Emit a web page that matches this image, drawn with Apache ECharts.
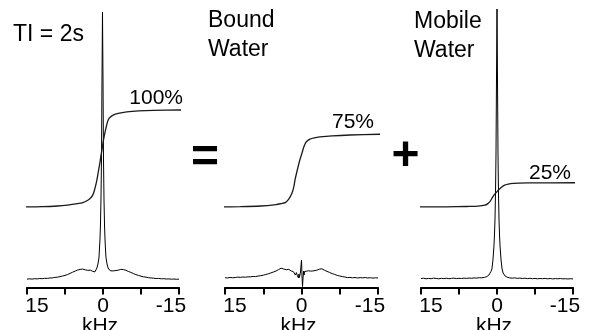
<!DOCTYPE html>
<html><head><meta charset="utf-8">
<script src="https://cdn.jsdelivr.net/npm/echarts@6/dist/echarts.min.js"></script>
<style>html,body{margin:0;padding:0;background:#fff}#c{width:595px;height:330px}</style>
</head><body><div id="c"></div>
<script>
// Frequency axis of the spectra (kHz)
const freq = [15,14.5,14,13.5,13,12.5,12,11.5,11,10.5,10,9.5,9,8.5,8,7.5,7,6.5,6,5.5,5,4.5,4,3.5,3,2.5,
  2.2,2,1.8,1.6,1.4,1.2,1,0.8,0.6,0.5,0.4,0.3,0.2,0.1,0,-0.1,-0.2,-0.3,-0.4,-0.5,-0.6,-0.8,-1,-1.2,-1.4,-1.6,-1.8,-2,-2.2,
  -2.5,-3,-3.5,-4,-4.5,-5,-5.5,-6,-6.5,-7,-7.5,-8,-8.5,-9,-9.5,-10,-10.5,-11,-11.5,-12,-12.5,-13,-13.5,-14,-14.5,-15];

// Spectrum intensities (arbitrary units)
const totalSpec = [0.8,1.2,0.9,1.3,1.1,1.5,1.3,1.7,1.6,2.0,2.1,2.6,2.8,3.3,4.0,4.6,5.4,6.6,7.8,8.9,10.0,10.6,10.9,10.2,9.6,9.9,
  9.0,8.6,9.3,8.1,7.2,12,16,22,40,55,80,120,200,268,200,120,80,55,40,30,22,16,12,10.2,9.4,9.8,9.1,9.6,9.2,
  9.0,9.8,10.6,10.4,9.7,8.6,7.6,6.4,5.4,4.6,3.8,3.2,2.8,2.3,2.0,1.8,1.5,1.6,1.2,1.3,1.0,1.1,0.8,1.0,0.7,0.9];
const boundSpec = [2.3,2.0,2.6,2.2,2.5,2.9,2.6,3.0,2.8,3.2,3.1,3.6,3.4,4.0,4.3,4.8,5.5,6.2,7.1,8.0,9.0,10.4,11.8,11.0,10.3,10.6,
  9.6,9.0,9.8,8.4,7.0,5.0,7.4,4.2,2.0,6.0,2.5,3.0,8,14,20,4,-6.5,2,9,5,8.5,6.5,8.8,8.0,9.2,8.4,8.9,8.2,9.0,
  9.4,9.8,10.8,11.2,9.8,8.6,7.6,6.4,5.6,4.6,4.0,3.4,3.0,2.4,2.6,2.2,2.5,2.0,2.4,2.1,2.5,2.0,2.3,1.9,2.2,2.0];
const mobileSpec = [1.4,1.8,1.2,1.6,1.3,1.9,1.5,1.2,1.7,1.4,1.8,1.3,1.6,1.9,1.4,1.7,1.5,1.9,1.6,2.0,1.7,2.1,1.9,2.3,2.2,2.6,
  2.8,3.4,3.6,5.0,6.5,8.5,11,20,34,45,60,85,125,200,271,200,125,85,60,45,34,20,11,7,5,4,3.3,2.8,2.4,
  2.1,1.8,2.2,1.6,1.9,1.5,1.8,1.4,1.7,1.3,1.6,1.2,1.5,1.3,1.6,1.2,1.5,1.1,1.4,1.2,1.5,1.1,1.3,1.0,1.3,1.1];

// Integral curves: [kHz, percent]
const totalIntegral = [[16.4,0],[12,0.3],[9,1],[7,2],[5,3.5],[4,4.5],[3,7],[2.5,9],[2,12.5],[1.6,19],[1.2,28],[0.9,37],[0.6,46],[0.4,53],[0.2,59],[0,66],[-0.2,72],[-0.4,77],[-0.7,84],[-1.0,89.5],[-1.4,92.5],[-2,94.8],[-3,96.5],[-4.7,98],[-7,99],[-10,99.6],[-15.6,100]];
const boundIntegral = [[16.4,0],[12,0.3],[8,1],[5,2.5],[4,3.5],[3.2,4.5],[2.5,8],[1.86,14.4],[1.5,21],[1.27,28],[0.69,41],[0.3,49],[-0.1,55.7],[-0.4,61],[-0.69,65],[-1.0,67.5],[-1.67,70],[-2.5,71.3],[-3.6,72.2],[-6,73.3],[-9.5,74.2],[-15.4,75]];
const mobileIntegral = [[15.8,0],[10,0.2],[6,0.5],[3.75,0.8],[2.4,1.8],[1.8,3.5],[1.4,5.5],[0.8,10.6],[0.4,13.5],[0,15.8],[-0.5,18.5],[-1.0,20.9],[-1.5,22.5],[-2,23.4],[-3.2,24.4],[-6,24.8],[-16,25]];

const tickValues = [15, 0, -15];
const tickLabels = ['15', '0', '-15'];
const axisName = 'kHz';
const panelTitles = ['TI = 2s', 'Bound\nWater', 'Mobile\nWater'];
const percentLabels = ['100%', '75%', '25%'];
const operators = ['=', '+'];

const FONT = '"Liberation Sans", Arial, sans-serif';
const specs = [totalSpec, boundSpec, mobileSpec];
const integrals = [totalIntegral, boundIntegral, mobileIntegral];
const gridPos = [{left:27,width:152},{left:225,width:153},{left:421,width:152}];

const grids = gridPos.map(g => ({left:g.left, width:g.width, top:0, height:287.5, containLabel:false, outerBoundsMode:'none'}));
const rich = {
  a:{fontSize:21,color:'#000',fontFamily:FONT,padding:[0,0,0,20]},
  b:{fontSize:21,color:'#000',fontFamily:FONT,padding:[0,16,0,0]},
  c:{fontSize:21,color:'#000',fontFamily:FONT}
};
const xAxes = gridPos.map((g,i) => ({
  gridIndex:i, type:'value', inverse:true, min:-15, max:15, interval:7.5,
  axisLine:{onZero:false, lineStyle:{color:'#000', width:2}},
  axisTick:{length:7, lineStyle:{color:'#000', width:2}},
  splitLine:{show:false},
  axisLabel:{margin:8, color:'#000', fontSize:21, fontFamily:FONT, rich,
    formatter:v => {
      const idx = tickValues.indexOf(v);
      if (idx < 0) return '';
      const key = idx === 0 ? 'a' : (idx === 2 ? 'b' : 'c');
      return '{' + key + '|' + tickLabels[idx] + '}';
    }},
  name:axisName, nameLocation:'middle', nameGap:28, nameMoveOverlap:false,
  nameTextStyle:{fontSize:21, color:'#000', fontFamily:FONT, padding:[0,6,0,0]}
}));
const yAxes = [];
gridPos.forEach((g,i) => {
  yAxes.push({gridIndex:i, type:'value', min:-7.5, max:280, show:false});
  yAxes.push({gridIndex:i, type:'value', min:-83, max:213.4, show:false});
});
const series = [];
specs.forEach((s,i) => {
  series.push({type:'line', xAxisIndex:i, yAxisIndex:2*i, data:freq.map((f,j)=>[f,s[j]]),
    showSymbol:false, symbol:'none', lineStyle:{color:'#000', width:1}, animation:false, silent:true});
  series.push({type:'line', xAxisIndex:i, yAxisIndex:2*i+1, data:integrals[i], clip:false, smooth:0.3,
    showSymbol:false, symbol:'none', lineStyle:{color:'#1a1a1a', width:1.3}, animation:false, silent:true});
});

function txt(text, x, y, size, align, bold) {
  return {type:'text', x, y, silent:true, style:{text, fill:'#000',
    font: (bold ? 'bold ' : '') + size + 'px ' + FONT,
    textAlign:align, textVerticalAlign:'middle', align:align, verticalAlign:'middle', lineHeight:29}};
}
const graphics = [
  txt(panelTitles[0], 13, 35, 23, 'left'),
  txt(panelTitles[1], 208, 35, 23, 'left'),
  txt(panelTitles[2], 414, 36, 23, 'left'),
  txt(percentLabels[0], 183, 98, 21, 'right'),
  txt(percentLabels[1], 374, 122, 21, 'right'),
  txt(percentLabels[2], 571, 173.5, 21, 'right'),
  txt(operators[0], 205, 158.5, 48, 'center', true),
  txt(operators[1], 405.5, 157, 48, 'center', true)
];

const chart = echarts.init(document.getElementById('c'), null, {renderer:'canvas'});
chart.setOption({animation:false, backgroundColor:'#fff', grid:grids, xAxis:xAxes, yAxis:yAxes, series, graphic:{elements:graphics}});
</script></body></html>
